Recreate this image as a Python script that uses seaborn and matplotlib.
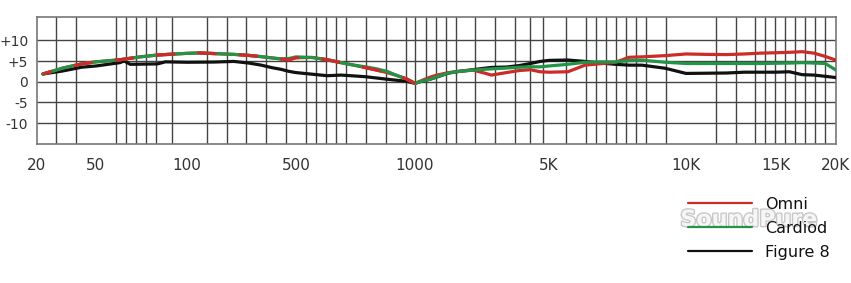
import numpy as np
import pandas as pd
import matplotlib
matplotlib.use("Agg")
import matplotlib.pyplot as plt
import matplotlib.patheffects as pe
from matplotlib.lines import Line2D
import seaborn as sns

# ---------------- data ----------------
omni_hz = [22, 30, 40, 50, 60, 70, 80, 100, 120, 150, 200, 250, 300, 350, 400, 450,
           500, 550, 600, 650, 700, 750, 800, 850, 900, 950, 1000, 1100, 1200, 1300,
           1500, 1700, 2000, 2300, 2500, 3000, 3500, 4000, 4500, 5000, 5500, 6000,
           6500, 7000, 7500, 8000, 9000, 10000, 11000, 12000, 13000, 14000, 15000,
           16000, 17000, 18000, 19000, 20000]
omni_db = [1.86, 3.3, 4.3, 4.8, 5.3, 6.0, 6.45, 6.85, 6.95, 6.8, 6.6, 6.35, 6.05, 5.75,
           5.5, 5.3, 5.8, 5.85, 5.3, 4.6, 4.0, 3.4, 2.8, 2.2, 1.5, 0.7, -0.4, 0.4, 1.1,
           1.6, 2.2, 2.5, 2.8, 2.1, 1.6, 2.2, 2.7, 2.9, 2.4, 2.3, 2.4, 4.0, 4.35, 4.7,
           5.9, 6.0, 6.3, 6.7, 6.6, 6.55, 6.7, 6.9, 7.0, 7.1, 7.25, 6.9, 6.1, 5.2]

card_hz = [22, 30, 40, 50, 60, 70, 80, 100, 120, 150, 200, 250, 300, 350, 400, 450,
           500, 550, 600, 650, 700, 750, 800, 850, 900, 950, 1000, 1100, 1200, 1300,
           1500, 1700, 2000, 2300, 2500, 3000, 3500, 4000, 4500, 5000, 5500, 6000,
           6500, 7000, 7500, 8000, 9000, 10000, 12000, 14000, 16000, 17000, 18000,
           19000, 20000]
card_db = [1.86, 3.3, 4.3, 4.8, 5.3, 6.0, 6.45, 6.85, 6.95, 6.8, 6.6, 6.35, 6.05, 5.75,
           5.5, 5.6, 6.0, 5.85, 5.3, 4.6, 4.0, 3.6, 3.1, 2.5, 1.5, 0.7, -0.4, 0.2, 0.6,
           1.2, 2.1, 2.5, 2.8, 3.0, 3.1, 3.3, 3.5, 3.6, 3.6, 3.8, 4.2, 4.7, 4.8, 4.8,
           5.1, 5.2, 4.7, 4.4, 4.4, 4.4, 4.5, 4.6, 4.5, 4.4, 2.8]

fig8_hz = [22, 30, 40, 50, 60, 62, 65, 80, 85, 100, 150, 200, 250, 300, 350, 400, 450,
           500, 600, 650, 700, 750, 850, 950, 1000, 1100, 1200, 1500, 1700, 2000, 2500,
           3000, 3500, 4000, 4500, 5000, 5500, 6000, 6500, 7000, 7500, 8000, 9000,
           10000, 12000, 13000, 15000, 16000, 17000, 18000, 19000, 20000]
fig8_db = [1.86, 2.6, 3.5, 3.8, 4.6, 5.0, 4.2, 4.3, 4.8, 4.7, 4.75, 4.9, 4.5, 4.0, 3.4,
           3.0, 2.5, 2.2, 1.45, 1.6, 1.4, 1.2, 0.6, 0.1, -0.4, 0.2, 0.6, 2.1, 2.5, 2.9,
           3.45, 3.55, 3.9, 4.4, 4.9, 5.15, 5.24, 4.9, 4.5, 4.2, 4.0, 4.0, 3.25, 2.0,
           2.1, 2.3, 2.3, 2.4, 1.7, 1.6, 1.3, 1.0]

series_names = ["Figure 8", "Omni", "Cardiod"]
x_tick_hz = [20, 50, 100, 500, 1000, 5000, 10000, 15000, 20000]
x_tick_labels = ["20", "50", "100", "500", "1000", "5K", "10K", "15K", "20K"]
y_ticks = [-10, -5, 0, 5, 10]
y_tick_labels = ["-10", "-5", "0", "+5", "+10"]

# ---------------- styling / layout ----------------
colors = {"Omni": "#cc2b27", "Cardiod": "#229447", "Figure 8": "#111111"}
W, H = 851, 283

# chart-paper frequency axis: piecewise log between labelled anchors (pixel columns)
anchor_hz = np.array([20, 50, 100, 500, 1000, 5000, 10000, 15000, 20000], float)
anchor_px = np.array([36.7, 96, 186.7, 296, 415, 549, 686, 776, 836], float)
lg = np.log10(anchor_hz)

def fwd(f):
    f = np.asarray(f, float)
    return np.interp(np.log10(np.clip(f, 1e-6, None)), lg, anchor_px)

def inv(p):
    p = np.asarray(p, float)
    return 10 ** np.interp(p, anchor_px, lg)

grid_px = [56, 76, 96, 116, 126, 136, 146, 156, 171.7, 186.7, 206.7, 226.7, 246.5,
           266.3, 286, 296, 306, 316, 326, 336, 346, 366, 386, 406, 415.5, 426, 436,
           446, 456, 475, 495, 515, 530, 543, 566, 586, 596, 606, 616, 626, 636, 646,
           666, 686, 716, 736, 755, 765, 775, 785, 795, 805, 815, 825]

sns.set_theme(style="white")
plt.rcParams["font.family"] = ["DejaVu Sans"]

fig = plt.figure(figsize=(W / 100, H / 100), dpi=100)
left, right, top, bottom = 36.7, 836, 17.3, 144
ax = fig.add_axes([left / W, (H - bottom) / H, (right - left) / W, (bottom - top) / H])
ax.set_xscale("function", functions=(fwd, inv))
ax.set_xlim(20, 20000)
ax.set_ylim(-15.05, 15.56)

df = pd.concat([
    pd.DataFrame({"freq": fig8_hz, "db": fig8_db, "mic": "Figure 8"}),
    pd.DataFrame({"freq": omni_hz, "db": omni_db, "mic": "Omni"}),
    pd.DataFrame({"freq": card_hz, "db": card_db, "mic": "Cardiod"}),
], ignore_index=True)

for name in series_names:
    sub = df[df["mic"] == name]
    sns.lineplot(data=sub, x="freq", y="db", color=colors[name], lw=2.3,
                 sort=False, estimator=None, ax=ax, legend=False, zorder=3)

# overlapping omni/cardioid section: red dashes showing through the green
low = df[(df["mic"] == "Omni") & (df["freq"] <= 1000)]
sns.lineplot(data=low, x="freq", y="db", color=colors["Omni"], lw=2.3,
             linestyle=(3, (6, 7)), sort=False, estimator=None, ax=ax,
             legend=False, zorder=4)

# grid
ax.set_xticks(inv(grid_px), minor=True)
ax.set_xticks(x_tick_hz)
ax.set_xticklabels(x_tick_labels)
ax.set_yticks(y_ticks)
ax.set_yticklabels(y_tick_labels)
ax.grid(which="minor", axis="x", color="#444444", lw=1.0)
ax.grid(which="major", axis="x", visible=False)
ax.grid(which="major", axis="y", color="#444444", lw=1.0)
ax.set_axisbelow(True)
for s in ax.spines.values():
    s.set_color("#777777")
    s.set_linewidth(1.2)
ax.tick_params(axis="x", which="both", length=0, pad=10, labelsize=11, colors="#333333")
ax.tick_params(axis="y", which="both", length=0, pad=6, labelsize=10, colors="#333333")
ax.set_xlabel("")
ax.set_ylabel("")

# watermark
fig.text(749 / W, 1 - 220 / H, "SoundPure", ha="center", va="center", fontsize=16,
         fontweight="bold", color="#f6f6f6", zorder=1,
         path_effects=[pe.withStroke(linewidth=2.0, foreground="#c8c8c8")])

# legend
handles = [Line2D([], [], color=colors["Omni"], lw=1.6),
           Line2D([], [], color=colors["Cardiod"], lw=1.6),
           Line2D([], [], color=colors["Figure 8"], lw=1.6)]
leg = fig.legend(handles, ["Omni", "Cardiod", "Figure 8"], loc="upper left",
                 bbox_to_anchor=(688 / W, 1 - 197 / H), frameon=False,
                 fontsize=11.5, handlelength=4.0, handletextpad=0.8,
                 labelspacing=0.56, borderpad=0, borderaxespad=0)
for t in leg.get_texts():
    t.set_color("#111111")
leg.set_zorder(5)

fig.savefig("out.png", dpi=100)
